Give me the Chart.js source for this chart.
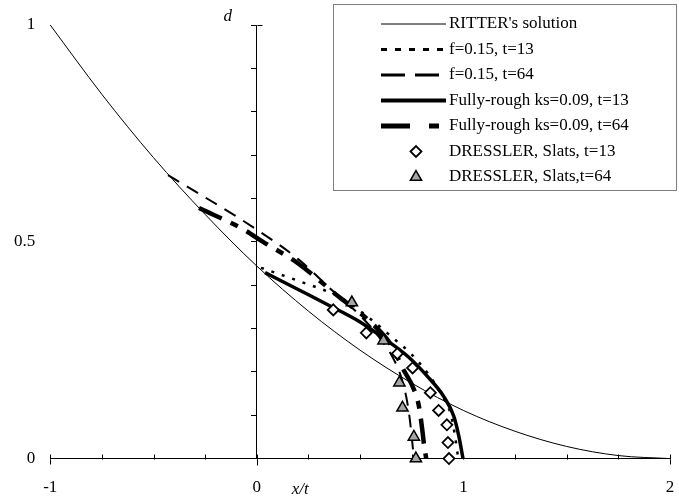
<!DOCTYPE html>
<html><head><meta charset="utf-8">
<script src="https://cdn.jsdelivr.net/npm/chart.js@4/dist/chart.umd.min.js"></script>
<style>html,body{margin:0;padding:0;background:#fff}</style>
</head><body>
<canvas id="c" width="679" height="503" style="width:679px;height:503px;display:block"></canvas>
<script>
// ---- data ----
const xTickLabels = [-1, 0, 1, 2];
const yTickLabels = [0, 0.5, 1];
const seriesNames = ["RITTER's solution", "f=0.15, t=13", "f=0.15, t=64",
  "Fully-rough ks=0.09, t=13", "Fully-rough ks=0.09, t=64",
  "DRESSLER, Slats, t=13", "DRESSLER, Slats,t=64"];

const ritterX = [-1, -0.75, -0.5, -0.25, 0, 0.25, 0.5, 0.75, 1, 1.25, 1.5, 1.75, 2];
const ritterD = [1.0, 0.84, 0.694, 0.563, 0.444, 0.34, 0.25, 0.174, 0.111, 0.063, 0.028, 0.007, 0.0];

const f13X = [0.02, 0.2, 0.41, 0.55, 0.65, 0.75, 0.83, 0.89, 0.94, 0.96, 0.975];
const f13D = [0.44, 0.41, 0.37, 0.322, 0.282, 0.24, 0.195, 0.15, 0.1, 0.05, 0.0];

const f64X = [-0.43, 0, 0.2, 0.36, 0.5, 0.6, 0.67, 0.71, 0.735, 0.75, 0.76];
const f64D = [0.654, 0.528, 0.46, 0.39, 0.33, 0.275, 0.222, 0.17, 0.11, 0.05, 0.0];

const fr13X = [0.04, 0.2, 0.355, 0.5, 0.613, 0.73, 0.827, 0.905, 0.954, 0.978, 0.998];
const fr13D = [0.429, 0.39, 0.352, 0.315, 0.278, 0.236, 0.189, 0.143, 0.097, 0.051, 0.0];

const fr64X = [-0.28, -0.07, 0.03, 0.2, 0.4, 0.55, 0.65, 0.71, 0.76, 0.785, 0.8, 0.81, 0.82];
const fr64D = [0.578, 0.53, 0.5, 0.45, 0.372, 0.315, 0.262, 0.205, 0.16, 0.12, 0.07, 0.03, 0.0];

const dres13X = [0.37, 0.53, 0.68, 0.754, 0.84, 0.88, 0.92, 0.925, 0.93];
const dres13D = [0.343, 0.29, 0.242, 0.209, 0.152, 0.111, 0.078, 0.037, 0.0];

const dres64X = [0.46, 0.613, 0.69, 0.705, 0.76, 0.77];
const dres64D = [0.36, 0.272, 0.175, 0.117, 0.05, 0.0];

// ---- build chart ----
const pts = (xs, ys) => xs.map((x, i) => ({x: x, y: ys[i]}));
const FONT = '"Liberation Serif", "Times New Roman", serif';
Chart.defaults.font.family = FONT;
Chart.defaults.font.size = 17;
Chart.defaults.color = '#000';

function lineDs(label, data, width, dash, legendDash, legendWidth) {
  return {type: 'line', label, data, borderColor: '#000', borderWidth: width, borderDash: dash,
    legendDash: legendDash, legendWidth: legendWidth,
    pointRadius: 0, fill: false, cubicInterpolationMode: 'monotone', clip: false, order: 2,
    borderCapStyle: 'butt', yAxisID: 'y'};
}
function markDs(label, data, style, radius, bg, bw) {
  return {type: 'scatter', label, data, showLine: false, pointStyle: style, pointRadius: radius,
    pointHoverRadius: radius, pointBackgroundColor: bg, pointBorderColor: '#000', pointBorderWidth: bw,
    clip: false, order: 1, yAxisID: 'y'};
}

const datasets = [
  lineDs(seriesNames[0], pts(ritterX, ritterD), 1, [], [], 1),
  lineDs(seriesNames[1], pts(f13X, f13D), 2.5, [3, 8], [6, 8], 3),
  lineDs(seriesNames[2], pts(f64X, f64D), 2, [13, 9], [24, 10], 3),
  lineDs(seriesNames[3], pts(fr13X, fr13D), 3.5, [], [], 4),
  lineDs(seriesNames[4], pts(fr64X, fr64D), 4.5, [25, 10, 8, 10], [29, 19, 10, 30], 5),
  markDs(seriesNames[5], pts(dres13X, dres13D), 'rectRot', 5.5, '#fff', 1.8),
  markDs(seriesNames[6], pts(dres64X, dres64D), 'triangle', 6.5, '#a6a6a6', 1.5)
];

const extras = {
  id: 'extras',
  afterDraw(chart) {
    const ctx = chart.ctx, xs = chart.scales.x, ys = chart.scales.y;
    ctx.save();
    ctx.strokeStyle = '#000'; ctx.lineWidth = 1;
    const x0 = Math.round(xs.getPixelForValue(0)) + 0.5;
    const yTop = Math.round(ys.getPixelForValue(1)) + 0.5;
    const yBot = Math.round(ys.getPixelForValue(0)) + 0.5;
    ctx.beginPath();
    // upward tick marks on the x axis (from the scale's own ticks)
    xs.ticks.forEach(t => {
      const px = Math.round(xs.getPixelForValue(t.value)) + 0.5;
      ctx.moveTo(px, yBot); ctx.lineTo(px, yBot - 5);
      if (t.value === -1 || t.value === 2) { ctx.moveTo(px, yBot); ctx.lineTo(px, yBot + 5); }
    });
    ctx.moveTo(x0, yTop); ctx.lineTo(x0 + 5, yTop);
    ctx.moveTo(x0, yBot); ctx.lineTo(x0, yBot + 6);
    ctx.stroke();
    // axis titles
    ctx.fillStyle = '#000';
    ctx.font = 'italic 17px ' + FONT;
    ctx.textAlign = 'center'; ctx.textBaseline = 'middle';
    ctx.fillText('d', xs.getPixelForValue(0) - 29, 17);
    ctx.fillText('x/t', xs.getPixelForValue(0.21), 490);
    // legend
    ctx.strokeStyle = '#808080'; ctx.lineWidth = 1;
    ctx.strokeRect(333.5, 4.5, 343, 186);
    chart.data.datasets.forEach((ds, i) => {
      const y = 24 + i * 25.5;
      if (ds.showLine === false) {
        ctx.fillStyle = ds.pointBackgroundColor; ctx.strokeStyle = ds.pointBorderColor;
        ctx.lineWidth = ds.pointBorderWidth; ctx.setLineDash([]);
        Chart.helpers.drawPoint(ctx, {pointStyle: ds.pointStyle, radius: ds.pointRadius, borderWidth: ds.pointBorderWidth, rotation: 0}, 416, y);
      } else {
        ctx.beginPath(); ctx.setLineDash(ds.legendDash || ds.borderDash); ctx.lineWidth = ds.legendWidth || ds.borderWidth;
        ctx.strokeStyle = ds.borderColor; ctx.moveTo(381, y); ctx.lineTo(446, y); ctx.stroke();
        ctx.setLineDash([]);
      }
      ctx.fillStyle = '#000'; ctx.font = '17px ' + FONT; ctx.textAlign = 'left'; ctx.textBaseline = 'middle';
      ctx.fillText(ds.label, 449, y);
    });
    ctx.restore();
  }
};

new Chart(document.getElementById('c'), {
  data: {datasets},
  options: {
    responsive: false, animation: false, devicePixelRatio: 1,
    layout: {padding: {left: 14, right: 9, top: 25, bottom: 5}},
    plugins: {legend: {display: false}, tooltip: {enabled: false}},
    scales: {
      x: {type: 'linear', position: 'bottom', min: -1, max: 2,
        ticks: {stepSize: 0.25, autoSkip: false, maxRotation: 0, padding: 0,
          callback: v => xTickLabels.includes(v) ? String(v) : ''},
        grid: {drawOnChartArea: false, drawTicks: true, tickLength: 19, tickColor: 'rgba(0,0,0,0)'},
        border: {display: true, color: '#000', width: 1}},
      yLab: {type: 'linear', position: 'left', min: 0, max: 1,
        ticks: {stepSize: 0.5, padding: 0, callback: v => yTickLabels.includes(v) ? String(v) : ''},
        grid: {drawOnChartArea: false, drawTicks: true, tickLength: 15, tickColor: 'rgba(0,0,0,0)'},
        border: {display: false}},
      y: {type: 'linear', position: {x: 0}, min: 0, max: 1,
        ticks: {stepSize: 0.1, display: false},
        grid: {drawOnChartArea: false, drawTicks: true, tickLength: 5, color: '#000', lineWidth: 1},
        border: {display: true, color: '#000', width: 1}}
    }
  },
  plugins: [extras]
});
</script>
</body></html>
